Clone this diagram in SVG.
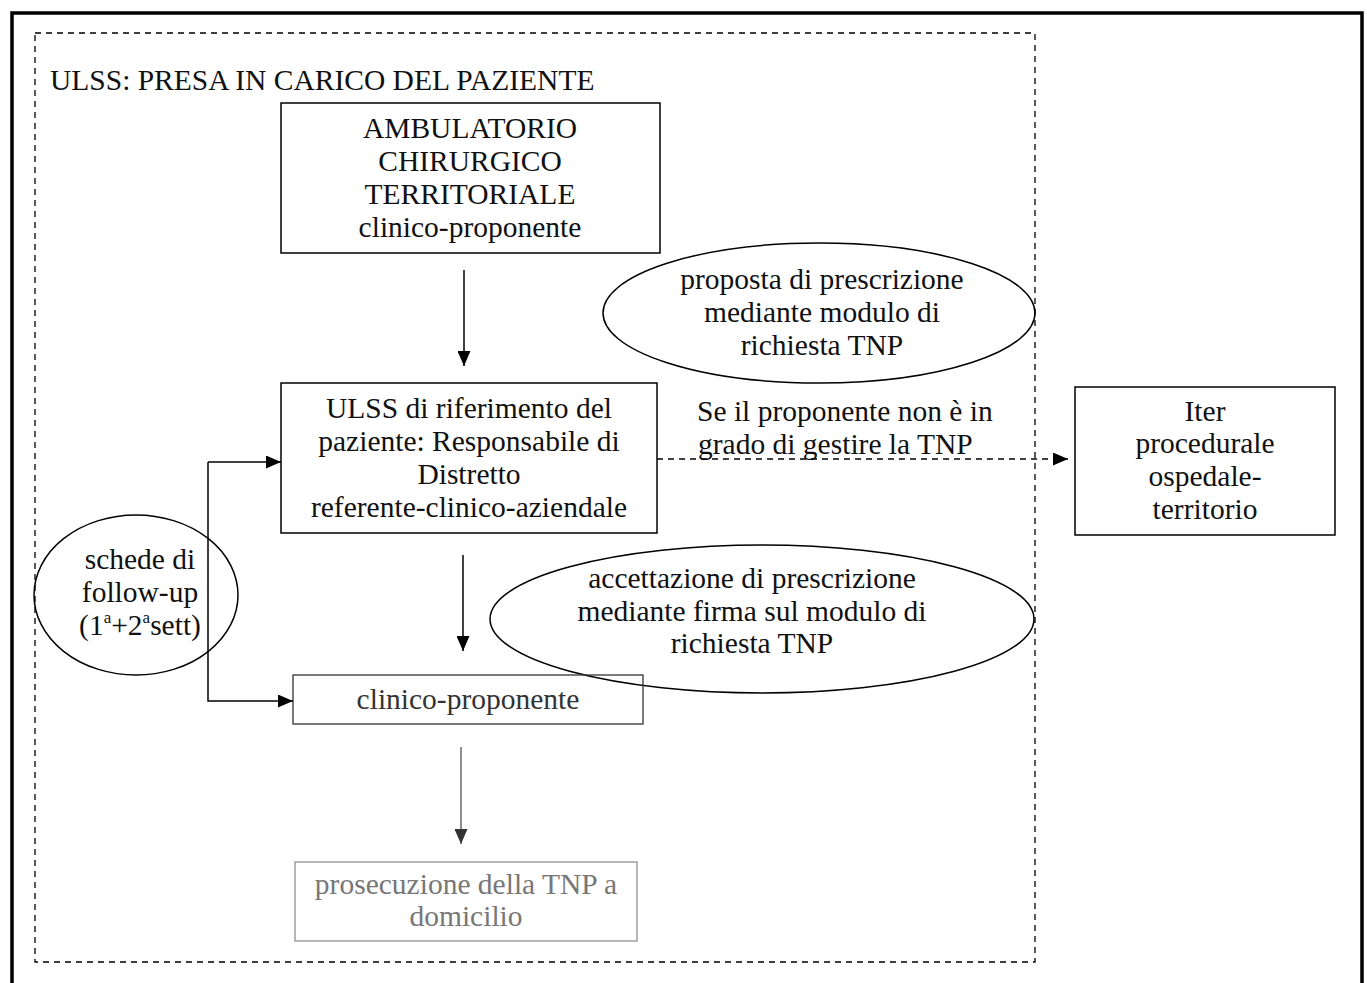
<svg xmlns="http://www.w3.org/2000/svg" width="1367" height="983" viewBox="0 0 1367 983">
<defs>
<marker id="ah" viewBox="0 0 10 10" refX="10" refY="5" markerWidth="15" markerHeight="13" markerUnits="userSpaceOnUse" orient="auto" preserveAspectRatio="none">
<path d="M0,0 L10,5 L0,10 z" fill="#000"/>
</marker>
<marker id="ahg" viewBox="0 0 10 10" refX="10" refY="5" markerWidth="15" markerHeight="13" markerUnits="userSpaceOnUse" orient="auto" preserveAspectRatio="none">
<path d="M0,0 L10,5 L0,10 z" fill="#333"/>
</marker>
</defs>
<style>
text{font-family:"Liberation Serif","Times New Roman",serif;font-size:29.5px;fill:#111;}
.c{text-anchor:middle;}
.box{fill:none;stroke:#000;stroke-width:1.5;}
.ell{fill:none;stroke:#000;stroke-width:1.5;}
.con{fill:none;stroke:#000;stroke-width:1.5;}
</style>
<rect x="0" y="0" width="1367" height="983" fill="#fff"/>
<g id="frame">
<path d="M12,990 L12,13 L1362,13 L1362,990" fill="none" stroke="#000" stroke-width="3.5"/>
<rect x="35" y="33" width="1000" height="929" fill="none" stroke="#000" stroke-width="1.3" stroke-dasharray="6,5"/>
<text x="50" y="90">ULSS: PRESA IN CARICO DEL PAZIENTE</text>
</g>
<g id="node-ambulatorio">
<rect class="box" x="281" y="103" width="379" height="150"/>
<text class="c" x="470" y="138">AMBULATORIO</text>
<text class="c" x="470" y="171">CHIRURGICO</text>
<text class="c" x="470" y="204">TERRITORIALE</text>
<text class="c" x="470" y="237">clinico-proponente</text>
</g>
<g id="node-proposta">
<ellipse class="ell" cx="819" cy="313" rx="216" ry="70"/>
<text class="c" x="822" y="289">proposta di prescrizione</text>
<text class="c" x="822" y="322">mediante modulo di</text>
<text class="c" x="822" y="355">richiesta TNP</text>
</g>
<g id="node-ulss">
<rect class="box" x="281" y="383" width="376" height="150"/>
<text class="c" x="469" y="418">ULSS di riferimento del</text>
<text class="c" x="469" y="451">paziente: Responsabile di</text>
<text class="c" x="469" y="484">Distretto</text>
<text class="c" x="469" y="517">referente-clinico-aziendale</text>
</g>
<g id="label-se">
<text x="697" y="421">Se il proponente non è in</text>
<text x="698" y="454">grado di gestire la TNP</text>
</g>
<g id="node-iter">
<rect class="box" x="1075" y="387" width="260" height="148"/>
<text class="c" x="1205" y="421">Iter</text>
<text class="c" x="1205" y="453">procedurale</text>
<text class="c" x="1205" y="486">ospedale-</text>
<text class="c" x="1205" y="519">territorio</text>
</g>
<g id="node-accettazione">
<ellipse class="ell" cx="762" cy="619" rx="272" ry="74"/>
<text class="c" x="752" y="588">accettazione di prescrizione</text>
<text class="c" x="752" y="621">mediante firma sul modulo di</text>
<text class="c" x="752" y="653">richiesta TNP</text>
</g>
<g id="node-schede">
<ellipse class="ell" cx="136" cy="595" rx="102" ry="80"/>
<text class="c" x="140" y="569">schede di</text>
<text class="c" x="140" y="602">follow-up</text>
<text class="c" x="140" y="635">(1<tspan font-size="17" dy="-12">a</tspan><tspan dy="12">+2</tspan><tspan font-size="17" dy="-12">a</tspan><tspan dy="12">sett)</tspan></text>
</g>
<g id="node-clinico">
<rect x="293" y="675" width="350" height="49" fill="none" stroke="#333" stroke-width="1.3"/>
<text class="c" x="468" y="709" style="fill:#333">clinico-proponente</text>
</g>
<g id="node-prosecuzione">
<rect x="295" y="862" width="342" height="79" fill="none" stroke="#888" stroke-width="1.2"/>
<text class="c" x="466" y="894" style="fill:#777">prosecuzione della TNP a</text>
<text class="c" x="466" y="926" style="fill:#777">domicilio</text>
</g>
<g id="connectors">
<line class="con" x1="464" y1="270" x2="464" y2="366" marker-end="url(#ah)"/>
<line class="con" x1="463" y1="555" x2="463" y2="651" marker-end="url(#ah)"/>
<line x1="461" y1="747" x2="461" y2="844" stroke="#444" stroke-width="1.2" marker-end="url(#ahg)"/>
<line class="con" x1="657" y1="459" x2="1068" y2="459" stroke-dasharray="6,5" marker-end="url(#ah)"/>
<polyline class="con" points="208,462 208,701 293,701" marker-end="url(#ah)"/>
<line class="con" x1="208" y1="462" x2="281" y2="462" marker-end="url(#ah)"/>
</g>
</svg>
